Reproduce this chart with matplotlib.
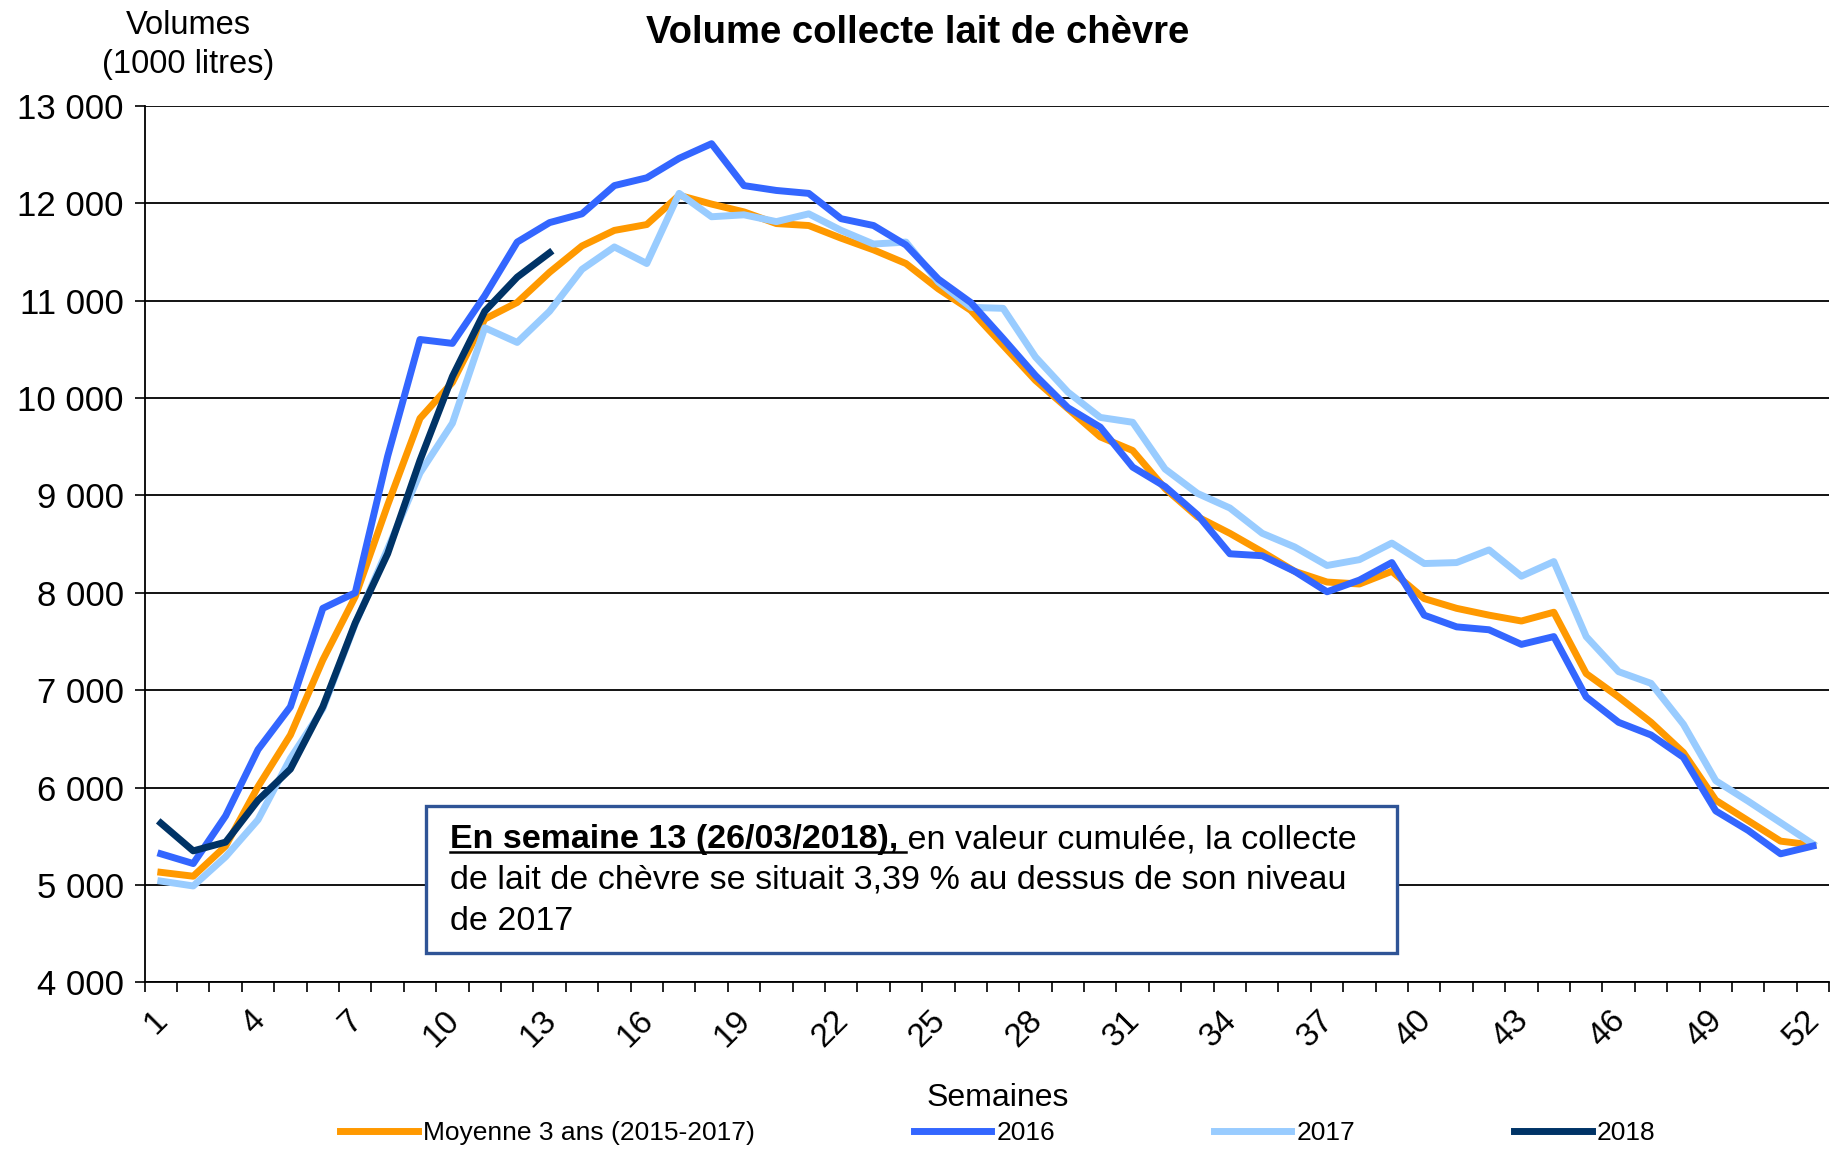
import matplotlib
matplotlib.use("Agg")
import matplotlib.pyplot as plt
from matplotlib.patches import Rectangle
from matplotlib.lines import Line2D
from matplotlib.ticker import FuncFormatter
from matplotlib.transforms import ScaledTranslation

plt.rcParams['font.family'] = ['Liberation Sans', 'DejaVu Sans']

semaines = list(range(1, 53))

moyenne = [5130, 5090, 5400, 6010, 6540, 7310, 7960, 8900, 9790, 10160,
           10810, 10980, 11290, 11560, 11720, 11780, 12080, 11990, 11910, 11790,
           11770, 11640, 11520, 11380, 11120, 10900, 10540, 10180, 9890, 9600,
           9460, 9070, 8780, 8610, 8420, 8220, 8110, 8090, 8220, 7940,
           7840, 7770, 7710, 7800, 7170, 6930, 6670, 6360, 5870, 5660,
           5450, 5410]

v2016 = [5320, 5220, 5710, 6390, 6830, 7840, 8000, 9400, 10600, 10560,
         11050, 11600, 11800, 11890, 12180, 12260, 12460, 12610, 12180, 12130,
         12100, 11840, 11770, 11570, 11220, 10980, 10610, 10230, 9900, 9700,
         9290, 9090, 8800, 8400, 8380, 8220, 8010, 8130, 8310, 7770,
         7650, 7620, 7470, 7550, 6930, 6670, 6540, 6310, 5760, 5560,
         5320, 5400]

v2017 = [5040, 4990, 5290, 5670, 6300, 6810, 7680, 8450, 9230, 9740,
         10720, 10570, 10890, 11320, 11550, 11380, 12100, 11860, 11880, 11810,
         11890, 11720, 11580, 11600, 11190, 10930, 10920, 10420, 10060, 9800,
         9750, 9270, 9020, 8870, 8610, 8470, 8280, 8340, 8510, 8300,
         8310, 8440, 8170, 8320, 7550, 7190, 7070, 6650, 6070, 5860,
         5640, 5420]

v2018 = [5635, 5350, 5440, 5870, 6190, 6830, 7690, 8400, 9360, 10220,
         10890, 11240, 11490]

noms = ["Moyenne 3 ans (2015-2017)", "2016", "2017", "2018"]
couleurs = ["#FF9900", "#3366FF", "#99CCFF", "#003366"]
etiquettes_x = list(range(1, 53, 3))

fig = plt.figure(figsize=(18.31, 11.49), dpi=100)
ax = fig.add_axes([0.079, 0.145, 0.92, 0.763])

lw = 5
ax.plot(semaines, moyenne, color=couleurs[0], lw=lw, label=noms[0], zorder=3)
ax.plot(semaines, v2016, color=couleurs[1], lw=lw, label=noms[1], zorder=4)
ax.plot(semaines, v2017, color=couleurs[2], lw=lw, label=noms[2], zorder=3)
ax.plot(semaines[:len(v2018)], v2018, color=couleurs[3], lw=lw, label=noms[3], zorder=5)

ax.set_xlim(0.5, 52.5)
ax.set_ylim(4000, 13000)
ax.set_yticks(range(4000, 13001, 1000))
ax.yaxis.set_major_formatter(FuncFormatter(lambda v, p: f"{int(v):,}".replace(",", " ")))
ax.grid(axis='y', color='black', lw=1.3)
ax.set_axisbelow(True)

ax.set_xticks(etiquettes_x)
ax.set_xticklabels([str(s) for s in etiquettes_x], rotation=45, ha='right',
                   va='top', rotation_mode='anchor')
ax.set_xticks([s + 0.5 for s in range(0, 53)], minor=True)
ax.tick_params(axis='x', which='major', length=0, pad=16, labelsize=24)
ax.tick_params(axis='x', which='minor', length=7, width=1.2, direction='out')
ax.tick_params(axis='y', length=7, width=1.2, labelsize=25, pad=8)
decalage = ScaledTranslation(-0.09, 0, fig.dpi_scale_trans)
for lab in ax.get_xticklabels():
    lab.set_transform(lab.get_transform() + decalage)

for s in ['top', 'right']:
    ax.spines[s].set_visible(False)
for s in ['left', 'bottom']:
    ax.spines[s].set_linewidth(1.3)

fig.text(0.501, 0.971, "Volume collecte lait de chèvre", ha='center', va='center',
         fontsize=27.5, fontweight='bold')
fig.text(0.103, 0.961, "Volumes\n(1000 litres)", ha='center', va='center',
         fontsize=23.5, linespacing=1.32)
fig.text(0.545, 0.044, "Semaines", ha='center', va='center', fontsize=23)

fig.legend(loc='center', bbox_to_anchor=(0.545, 0.014), ncol=4, frameon=False,
           fontsize=19, handlelength=2.95, handletextpad=0.2, columnspacing=6.0)

# encadré
fig.patches.append(Rectangle((0.2327, 0.1706), 0.5303, 0.1279, transform=fig.transFigure,
                             facecolor='white', edgecolor='#2F5496', lw=2.4, zorder=10))
t1 = fig.text(0.2458, 0.269, "En semaine 13 (26/03/2018),", fontsize=24.5, fontweight='bold',
              va='center', zorder=11)
t2 = fig.text(0, 0, " en valeur cumulée, la collecte", fontsize=24.5, va='center', zorder=11)
fig.text(0.2458, 0.234, "de lait de chèvre se situait 3,39 % au dessus de son niveau",
         fontsize=24.5, va='center', zorder=11)
fig.text(0.2458, 0.198, "de 2017", fontsize=24.5, va='center', zorder=11)

fig.canvas.draw()
bb = t1.get_window_extent().transformed(fig.transFigure.inverted())
t2.set_position((bb.x1, 0.269))
fig.lines.append(Line2D([bb.x0, bb.x1 + 0.004], [bb.y0 + 0.003, bb.y0 + 0.003],
                        transform=fig.transFigure, color='black', lw=1.8, zorder=11))

fig.savefig("out.png", dpi=100)
